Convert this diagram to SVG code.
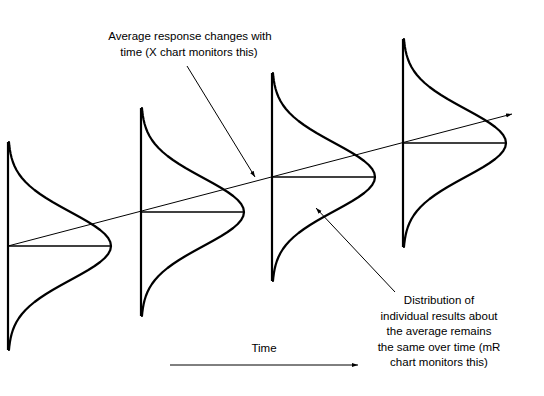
<svg xmlns="http://www.w3.org/2000/svg" xmlns:xlink="http://www.w3.org/1999/xlink" width="544" height="396" viewBox="0 0 544 396">
<style>
.axis{stroke:#000;stroke-width:2.2;fill:none}
.curve{stroke:#000;stroke-width:2.2;fill:none;stroke-linejoin:round;stroke-linecap:round}
.mean{stroke:#000;stroke-width:1.3;fill:none}
.conn{stroke:#000;stroke-width:1;fill:none}
.lbl{font-family:"Liberation Sans",Arial,sans-serif;font-size:11.5px;fill:#000;text-anchor:middle}
</style>
<defs>
<marker id="ah" viewBox="0 0 10 10" refX="10" refY="5" markerWidth="6" markerHeight="6" orient="auto" markerUnits="userSpaceOnUse">
<path d="M0,1.5 L10,5 L0,8.5 z" fill="#000"/>
</marker>
<g id="dist">
<line class="axis" x1="0" y1="-104" x2="0" y2="104"/>
<line class="mean" x1="0" y1="0" x2="103" y2="0"/>
<polyline class="curve" points="0.96,-104 1.36,-100 1.91,-96 2.65,-92 3.62,-88 4.87,-84 6.47,-80 8.47,-76 10.94,-72 13.94,-68 17.52,-64 21.71,-60 26.53,-56 31.98,-52 38.02,-48 44.58,-44 51.56,-40 58.80,-36 66.15,-32 73.38,-28 80.29,-24 86.63,-20 92.20,-16 96.78,-12 100.19,-8 102.29,-4 103,0 102.29,4 100.19,8 96.78,12 92.20,16 86.63,20 80.29,24 73.38,28 66.15,32 58.80,36 51.56,40 44.58,44 38.02,48 31.98,52 26.53,56 21.71,60 17.52,64 13.94,68 10.94,72 8.47,76 6.47,80 4.87,84 3.62,88 2.65,92 1.91,96 1.36,100 0.96,104"/>
</g>
</defs>
<g id="dist1"><use xlink:href="#dist" href="#dist" transform="translate(8,246)"/></g>
<g id="dist2"><use xlink:href="#dist" href="#dist" transform="translate(141,212)"/></g>
<g id="dist3"><use xlink:href="#dist" href="#dist" transform="translate(272,177)"/></g>
<g id="dist4"><use xlink:href="#dist" href="#dist" transform="translate(403,143)"/></g>
<g id="connectors">
<line class="conn" x1="8" y1="246" x2="512" y2="114" marker-end="url(#ah)"/>
<line class="conn" x1="187" y1="66" x2="255" y2="177" marker-end="url(#ah)"/>
<line class="conn" x1="395" y1="292" x2="316" y2="208" marker-end="url(#ah)"/>
<line class="conn" x1="170" y1="365" x2="358" y2="365" marker-end="url(#ah)"/>
</g>
<g id="label-average">
<text class="lbl" x="190" y="40">Average response changes with</text>
<text class="lbl" x="189" y="56">time (X chart monitors this)</text>
</g>
<g id="label-distribution">
<text class="lbl" x="439" y="304">Distribution of</text>
<text class="lbl" x="439" y="319.5">individual results about</text>
<text class="lbl" x="439" y="335">the average remains</text>
<text class="lbl" x="439" y="350.5">the same over time (mR</text>
<text class="lbl" x="439" y="366">chart monitors this)</text>
</g>
<g id="label-time">
<text class="lbl" x="264" y="352">Time</text>
</g>
</svg>
